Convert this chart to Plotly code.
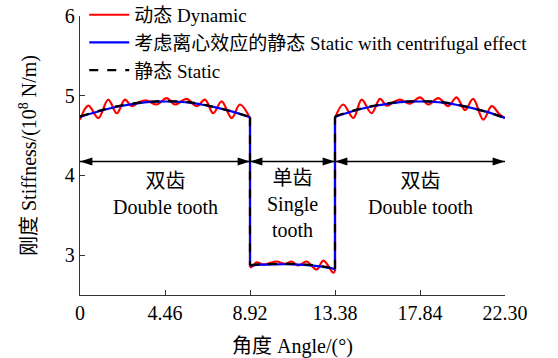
import plotly.graph_objects as go

# Mesh stiffness over one meshing period (angle in degrees, stiffness in 1e8 N/m)
# A repeated angle marks the jump between double- and single-tooth contact.
static_angle = [0, 1, 2, 3, 4, 5, 6, 7, 8, 8.92,
                8.92, 9.5, 10.3, 11.1, 11.9, 12.7, 13.38,
                13.38, 14.3, 15.3, 16.3, 17.3, 18.3, 19.3, 20.3, 21.3, 22.3]
static_stiff = [4.74, 4.81, 4.87, 4.91, 4.93, 4.93, 4.91, 4.86, 4.80, 4.73,
                2.875, 2.885, 2.89, 2.89, 2.88, 2.86, 2.83,
                4.74, 4.81, 4.87, 4.91, 4.93, 4.93, 4.91, 4.86, 4.80, 4.72]

centrifugal_angle = static_angle
centrifugal_stiff = [4.735, 4.805, 4.865, 4.905, 4.925, 4.925, 4.905, 4.86, 4.80, 4.73,
                     2.87, 2.88, 2.885, 2.885, 2.875, 2.855, 2.825,
                     4.735, 4.805, 4.865, 4.905, 4.925, 4.925, 4.905, 4.86, 4.80, 4.72]

dynamic_angle = [0, 0.44, 0.96, 1.48, 1.93, 2.36, 2.71, 3.10, 3.50, 4.02, 4.55, 4.98,
                 5.60, 6.12, 6.56, 6.99, 7.43, 7.96, 8.39, 8.92,
                 8.92, 9.0, 9.27, 9.62, 9.95, 10.32, 10.76, 11.11, 11.45, 11.89, 12.42,
                 12.77, 13.29, 13.38,
                 13.38, 13.81, 14.34, 14.78, 15.30, 15.74, 16.09, 16.45, 16.79, 17.31,
                 17.84, 18.27, 18.80, 19.32, 19.76, 20.20, 20.63, 21.16, 21.60, 22.04, 22.3]
dynamic_stiff = [4.70, 4.875, 4.72, 4.95, 4.78, 4.95, 4.87, 4.92, 4.94, 4.89, 4.97, 4.89,
                 4.96, 4.87, 4.95, 4.78, 4.93, 4.72, 4.89, 4.72,
                 2.85, 2.85, 2.91, 2.88, 2.90, 2.92, 2.89, 2.92, 2.87, 2.92, 2.82,
                 2.93, 2.78, 2.80,
                 4.72, 4.89, 4.72, 4.95, 4.78, 4.96, 4.875, 4.92, 4.95, 4.90,
                 4.98, 4.89, 4.97, 4.87, 4.98, 4.82, 4.96, 4.70, 4.87, 4.76, 4.72]

tick_angles = [0, 4.46, 8.92, 13.38, 17.84, 22.30]
tick_text = ["0", "4.46", "8.92", "13.38", "17.84", "22.30"]

# contact zones: start angle, end angle, label, label top (stiffness units)
zone_start = [0, 8.92, 13.38]
zone_end = [8.92, 13.38, 22.30]
zone_label = ["双齿<br>Double tooth", "单齿<br>Single<br>tooth", "双齿<br>Double tooth"]
zone_label_top = [4.095, 4.135, 4.095]
arrow_level = 4.175

FONT = "Liberation Serif, Times New Roman, Noto Sans CJK SC, serif"
FS = 20


def split_runs(xs, ys):
    """Split a stepped curve into smooth runs and the vertical jumps between them."""
    runs, cur = [], [(xs[0], ys[0])]
    for x, y in zip(xs[1:], ys[1:]):
        if x == cur[-1][0]:
            runs.append(cur)
            cur = [(x, y)]
        else:
            cur.append((x, y))
    runs.append(cur)
    cx, cy, jx, jy = [], [], [], []
    for i, r in enumerate(runs):
        cx += [p[0] for p in r] + [None]
        cy += [p[1] for p in r] + [None]
        if i + 1 < len(runs):
            jx += [r[-1][0], runs[i + 1][0][0], None]
            jy += [r[-1][1], runs[i + 1][0][1], None]
    return cx, cy, jx, jy


fig = go.Figure()

series = [
    ("动态 Dynamic", dynamic_angle, dynamic_stiff, "#ff0000", "solid"),
    ("考虑离心效应的静态 Static with centrifugal effect", centrifugal_angle, centrifugal_stiff,
     "#0000ff", "solid"),
    ("静态 Static", static_angle, static_stiff, "#000000", "dash"),
]
for name, xs, ys, color, dash in series:
    cx, cy, jx, jy = split_runs(xs, ys)
    fig.add_trace(go.Scatter(x=cx, y=cy, mode="lines", name=name, legendgroup=name,
                             line=dict(color=color, width=2.2, dash=dash, shape="spline",
                                       smoothing=1.0),
                             connectgaps=False))
    fig.add_trace(go.Scatter(x=jx, y=jy, mode="lines", legendgroup=name, showlegend=False,
                             line=dict(color=color, width=2.2, dash=dash),
                             connectgaps=False))

# double-headed arrows spanning each contact zone
ax_, ay_, ang = [], [], []
for x0, x1 in zip(zone_start, zone_end):
    ax_ += [x0, x1, None]
    ay_ += [arrow_level, arrow_level, None]
    ang += [-90, 90, 0]
fig.add_trace(go.Scatter(x=ax_, y=ay_, mode="lines+markers", showlegend=False,
                         hoverinfo="skip", connectgaps=False,
                         line=dict(color="black", width=1.4),
                         marker=dict(symbol="arrow", size=13, angle=ang, color="black",
                                     line=dict(width=0))))

for x0, x1, label, top in zip(zone_start, zone_end, zone_label, zone_label_top):
    fig.add_annotation(x=(x0 + x1) / 2, y=top, xref="x", yref="y", text=label,
                       showarrow=False, yanchor="top", align="center",
                       font=dict(family=FONT, size=FS, color="black"))

fig.update_xaxes(range=[0, 22.3], tickvals=tick_angles, ticktext=tick_text,
                 ticks="inside", ticklen=5, tickwidth=1.2, tickcolor="#333",
                 showline=True, linecolor="#333", linewidth=1.4,
                 showgrid=False, zeroline=False,
                 title=dict(text="角度 Angle/(°)", standoff=15,
                            font=dict(family=FONT, size=FS)),
                 tickfont=dict(family=FONT, size=FS, color="black"))
fig.update_yaxes(range=[2.5, 6], tickvals=[3, 4, 5, 6],
                 ticks="inside", ticklen=5, tickwidth=1.2, tickcolor="#333",
                 showline=True, linecolor="#333", linewidth=1.4,
                 showgrid=False, zeroline=False,
                 title=dict(text="刚度 Stiffness/(10<sup>8</sup> N/m)", standoff=22,
                            font=dict(family=FONT, size=FS)),
                 tickfont=dict(family=FONT, size=FS, color="black"))

fig.update_layout(
    width=558, height=358,
    margin=dict(l=80, r=53, t=16, b=63, autoexpand=False),
    paper_bgcolor="white", plot_bgcolor="white",
    font=dict(family=FONT, size=FS, color="black"),
    showlegend=True,
    legend=dict(x=0.01, y=1.072, xanchor="left", yanchor="top",
                bgcolor="rgba(0,0,0,0)", borderwidth=0,
                font=dict(family=FONT, size=19, color="black"),
                tracegroupgap=0, itemwidth=40),
)

fig.write_html("out.html")
